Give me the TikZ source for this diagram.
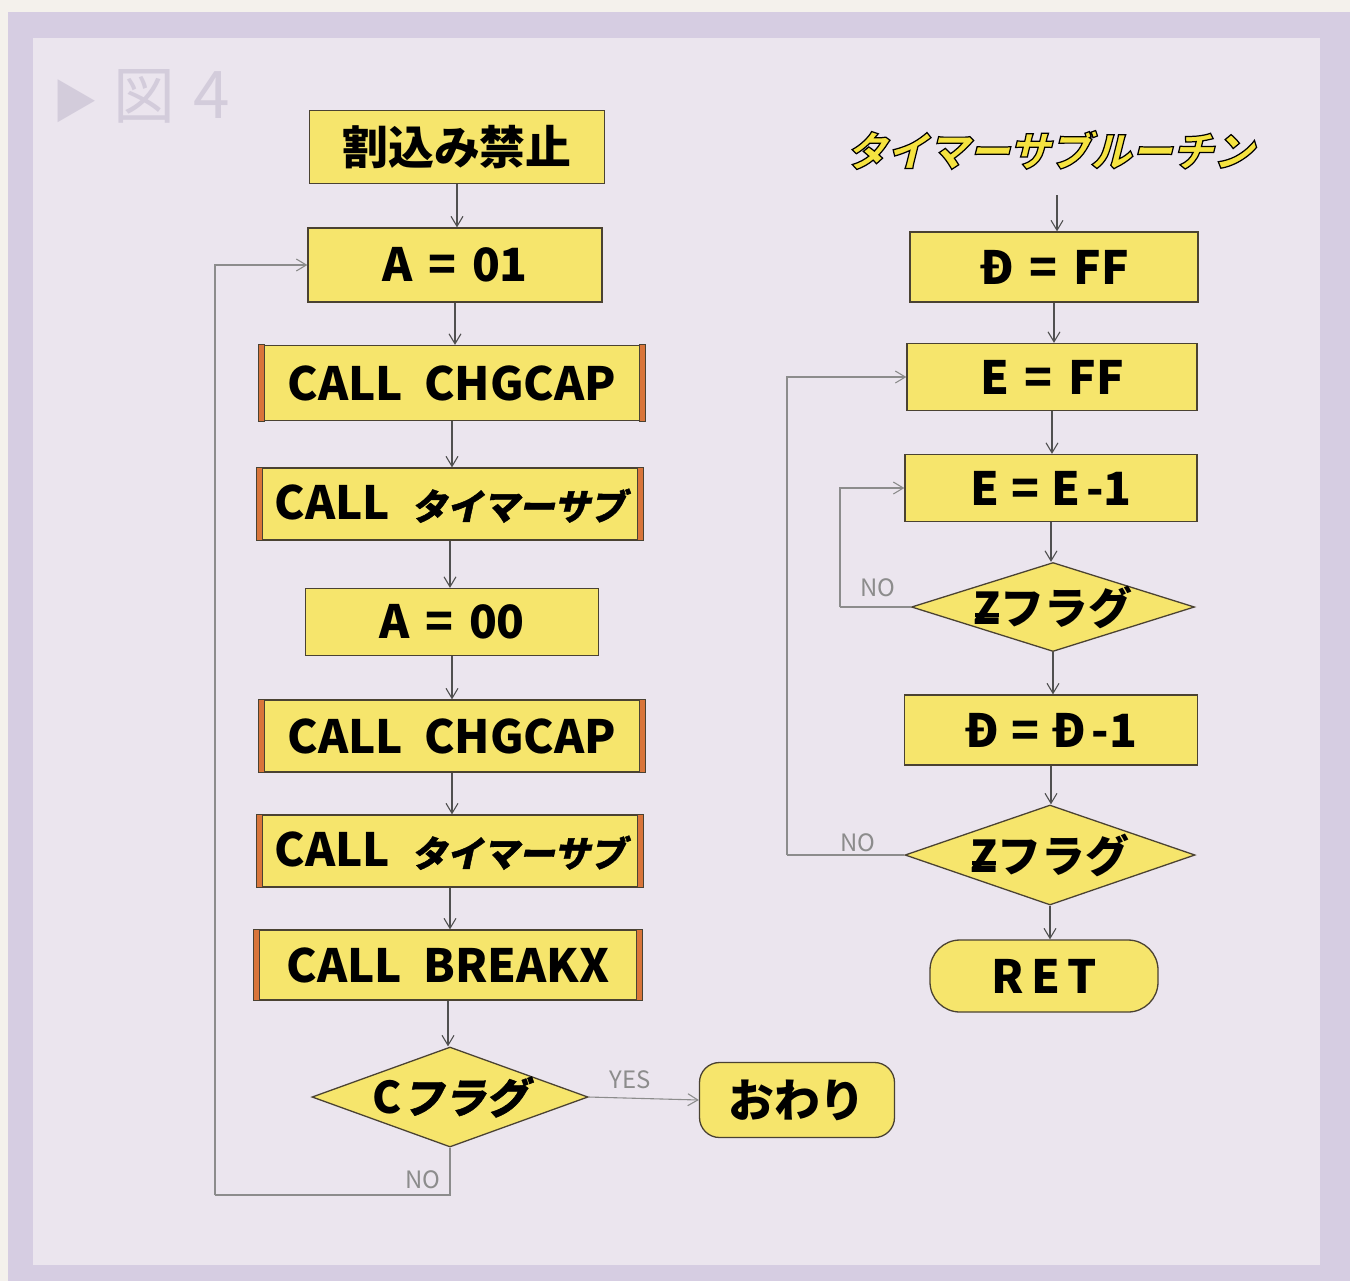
\documentclass[tikz,border=0pt]{standalone}
\usepackage{fontspec}
\usetikzlibrary{shapes.geometric,arrows.meta}
\newfontfamily\jp{Noto Sans CJK JP}
\newfontfamily\jpsl{Noto Sans CJK JP}[FakeSlant=0.22, FakeBold=1.2]
\newfontfamily\jptitle{Noto Sans CJK JP}[FakeSlant=0.25, FakeBold=3]
\definecolor{outerbg}{HTML}{F4F1EC}
\definecolor{framec}{HTML}{D6CDE2}
\definecolor{innerc}{HTML}{EBE5EE}
\definecolor{boxy}{HTML}{F6E56C}
\definecolor{edgec}{HTML}{4A4232}
\definecolor{barc}{HTML}{D9753A}
\definecolor{arrc}{HTML}{505050}
\definecolor{loopc}{HTML}{8C8C8C}
\definecolor{faint}{HTML}{D3CCDB}
\newcommand{\zbar}{\ooalign{Z\cr\hidewidth\raise0.3ex\hbox{\rule{0.55em}{0.09em}}\hidewidth\cr}}
\newcommand{\gapsp}{\hspace{16pt}}
\newcommand{\kata}[1]{{\jpsl\fontsize{36}{38}\selectfont #1}}
\newcommand{\outl}[1]{{\special{pdf:bcolor [0.96 0.89 0.25] [0 0 0]}#1\special{pdf:ecolor}}}
\tikzset{
  x=1bp, y=-1bp,
  proc/.style={rectangle, draw=edgec, fill=boxy, line width=1.3pt, inner sep=0pt,
    font=\jp\bfseries\fontsize{46}{50}\selectfont, text=black},
  term/.style={proc, rounded corners=24bp},
  diam/.style={diamond, draw=edgec, fill=boxy, line width=1.3pt, inner sep=0pt},
  dtext/.style={font=\jp\bfseries\fontsize{44}{48}\selectfont, text=black},
  arr/.style={draw=arrc, line width=1.1pt, -{Straight Barb[length=10bp,width=12bp]}},
  loopl/.style={draw=loopc, line width=1.1pt},
  lbl/.style={font=\jp\fontsize{24}{26}\selectfont, text=loopc},
  bar/.style={fill=barc, draw=edgec, line width=1pt},
}
\begin{document}
\begin{tikzpicture}
\useasboundingbox (0,0) rectangle (1350,1281);
\fill[outerbg] (0,0) rectangle (1350,1281);
\fill[framec] (8,12) rectangle (1350,1281);
\fill[innerc] (33,38) rectangle (1320,1265);
% faint heading
\node[anchor=west, text=faint, font=\jp\fontsize{62}{64}\selectfont, inner sep=0pt] (hd) at (52,96) {{\fontsize{46}{48}\selectfont ▶}\hspace{16pt}図\hspace{18pt}{\fontsize{66}{68}\selectfont 4}};
% left column
\node[proc, minimum width=295bp, minimum height=73bp] (b1) at (457,147) {割込み禁止};
\node[proc, minimum width=294bp, minimum height=74bp] (b2) at (455,265) {A\gapsp=\gapsp01};
\node[proc, minimum width=385bp, minimum height=75bp] (b3) at (452,383) {CALL\ \ CHGCAP};
\node[proc, minimum width=385bp, minimum height=72bp] (b4) at (450,504) {CALL\ \ \kata{タイマーサブ}};
\node[proc, minimum width=293bp, minimum height=67bp] (b5) at (452,622) {A\gapsp=\gapsp00};
\node[proc, minimum width=385bp, minimum height=72bp] (b6) at (452,736) {CALL\ \ CHGCAP};
\node[proc, minimum width=385bp, minimum height=72bp] (b7) at (450,851) {CALL\ \ \kata{タイマーサブ}};
\node[proc, minimum width=387bp, minimum height=70bp] (b8) at (448,965) {CALL\ \ BREAKX};
\foreach \n in {b3,b4,b6,b7,b8}{
  \filldraw[bar] (\n.north west) rectangle ([xshift=6bp]\n.south west);
  \filldraw[bar] (\n.north east) rectangle ([xshift=-6bp]\n.south east);
}
\node[diam, minimum width=276bp, minimum height=100bp] (d1) at (450,1097) {};
\node[dtext] (d1t) at (d1) {C\kata{\fontsize{42}{44}\selectfont\bfseries フラグ}};
\node[term, minimum width=195bp, minimum height=75bp, rounded corners=20bp] (e1) at (797,1100) {おわり};
\foreach \a/\b in {b1/b2,b2/b3,b3/b4,b4/b5,b5/b6,b6/b7,b7/b8,b8/d1}{
  \draw[arr] (\a.south) -- (\a.south |- \b.north);
}
\coordinate (lc) at (215,1195);
\draw[loopl] (d1.south) |- (lc);
\draw[loopl, arr, draw=loopc] (lc) |- (b2.west);
\node[lbl] (no1) at (423,1180) {NO};
\draw[loopl, arr, draw=loopc] (d1.east) -- (e1.west);
\node[lbl] (yes) at (630,1080) {YES};
% right column
\node[font=\jptitle\bfseries\fontsize{41}{44}\selectfont, inner sep=0pt] (t) at (1050,150) {\outl{タイマーサブルーチン}};
\node[proc, minimum width=288bp, minimum height=70bp] (r1) at (1054,267) {Ð\gapsp=\gapsp FF};
\node[proc, minimum width=290bp, minimum height=67bp] (r2) at (1052,377) {E\gapsp=\gapsp FF};
\node[proc, minimum width=292bp, minimum height=67bp] (r3) at (1051,488) {E\hspace{12pt}=\hspace{12pt}E\hspace{6pt}-1};
\node[diam, minimum width=283bp, minimum height=89bp] (rd1) at (1053,607) {};
\node[dtext] (rd1t) at (rd1) {\zbar フラグ};
\node[proc, minimum width=293bp, minimum height=70bp] (r4) at (1051,730) {Ð\hspace{12pt}=\hspace{12pt}Ð\hspace{6pt}-1};
\node[diam, minimum width=290bp, minimum height=100bp] (rd2) at (1050,855) {};
\node[dtext] (rd2t) at (rd2) {\zbar フラグ};
\node[term, minimum width=228bp, minimum height=72bp, rounded corners=30bp] (r5) at (1044,976) {R\,E\,T};
\coordinate (ts) at (1057,195);
\draw[arr] (ts) -- (ts |- r1.north);
\foreach \a/\b in {r1/r2,r2/r3,r3/rd1,rd1/r4,r4/rd2,rd2/r5}{
  \draw[arr] (\a.south) -- (\a.south |- \b.north);
}
\coordinate (il) at (840,607);
\draw[loopl] (rd1.west) -- (il);
\draw[loopl, arr, draw=loopc] (il) |- (r3.west);
\node[lbl] (no2) at (878,588) {NO};
\coordinate (ol) at (787,855);
\draw[loopl] (rd2.west) -- (ol);
\draw[loopl, arr, draw=loopc] (ol) |- (r2.west);
\node[lbl] (no3) at (858,843) {NO};
\end{tikzpicture}
\end{document}
